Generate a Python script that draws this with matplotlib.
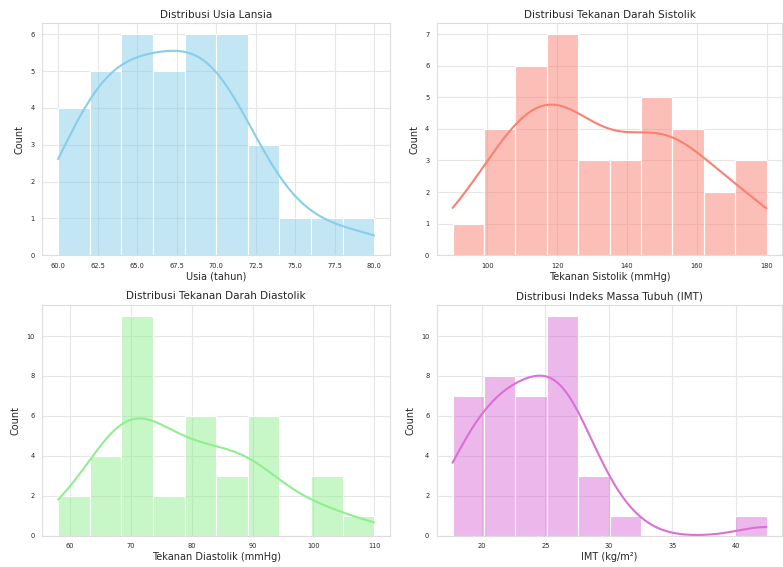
import matplotlib
matplotlib.use("Agg")
import matplotlib.pyplot as plt
import seaborn as sns
import numpy as np

sns.set_style("whitegrid")
plt.rcParams['font.family'] = ['DejaVu Sans']

usia = [60, 60, 61, 61,
        62, 62, 63, 63, 63,
        64, 64, 64, 65, 65, 65,
        66, 66, 67, 67, 67,
        68, 68, 68, 69, 69, 69,
        70, 70, 70, 71, 71, 71,
        72, 73, 73,
        75, 77, 80]

sistolik = [90,
            100, 100, 100, 105,
            110, 110, 110, 110, 115, 115,
            120, 120, 120, 120, 120, 125, 125,
            130, 130, 130,
            140, 142, 143,
            145, 148, 150, 150, 152,
            155, 155, 158, 160,
            165, 170,
            175, 178, 180]

diastolik = [58, 60, 64, 65, 65, 67] + [70] * 9 + [72, 73, 75, 77] + [80] * 5 + \
            [82, 85, 86, 88] + [90] * 5 + [92, 100, 100, 102, 110]

imt = [17.7, 17.9, 18.2, 18.6, 19.0, 19.5, 19.9,
       20.4, 20.8, 21.1, 21.5, 21.8, 22.0, 22.2, 22.5,
       22.8, 23.1, 23.4, 23.9, 24.2, 24.6, 25.0,
       25.3, 25.5, 25.7, 25.9, 26.1, 26.4, 26.6, 26.9, 27.1, 27.3, 27.5,
       28.2, 29.0, 29.8,
       31.2,
       42.4]

panels = [
    (usia, "skyblue", "Distribusi Usia Lansia", "Usia (tahun)"),
    (sistolik, "salmon", "Distribusi Tekanan Darah Sistolik", "Tekanan Sistolik (mmHg)"),
    (diastolik, "lightgreen", "Distribusi Tekanan Darah Diastolik", "Tekanan Diastolik (mmHg)"),
    (imt, "orchid", "Distribusi Indeks Massa Tubuh (IMT)", "IMT (kg/m²)"),
]

fig = plt.figure(figsize=(7.83, 5.67), dpi=100)
positions = [
    [0.054, 0.550, 0.444, 0.409],
    [0.558, 0.550, 0.441, 0.409],
    [0.054, 0.055, 0.444, 0.407],
    [0.558, 0.055, 0.441, 0.407],
]

for (data, color, title, xlabel), pos in zip(panels, positions):
    ax = fig.add_axes(pos)
    sns.histplot(data, bins=10, kde=True, color=color, ax=ax, edgecolor="white", linewidth=0.8)
    ax.set_title(title, fontsize=7.5, pad=4)
    ax.set_xlabel(xlabel, fontsize=7, labelpad=2)
    ax.set_ylabel("Count", fontsize=7, labelpad=4)
    ax.tick_params(axis="both", labelsize=4.8, pad=2)
    for sp in ax.spines.values():
        sp.set_color("#dddddd")
        sp.set_linewidth(0.8)
    ax.grid(True, color="#e6e6e6", linewidth=0.8)

fig.savefig("out.png", dpi=100)
